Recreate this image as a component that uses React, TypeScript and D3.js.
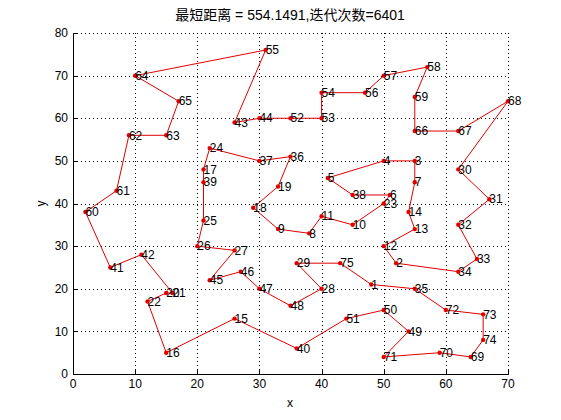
import { useEffect, useRef } from "react";
import * as d3 from "d3";

// city coordinates, index i -> city number i + 1
const cityX = [
  48, 52, 55, 50, 41, 51, 55, 38, 33, 45, 40, 50, 55, 54, 26, 15, 21, 29, 33, 15,
  16, 12, 50, 22, 21, 20, 26, 40, 36, 62, 67, 62, 65, 62, 55, 35, 30, 45, 21, 36,
  6, 11, 26, 30, 22, 27, 30, 35, 54, 50, 44, 35, 40, 40, 31, 47, 50, 57, 55, 2,
  7, 9, 15, 10, 17, 55, 62, 70, 64, 59, 50, 60, 66, 66, 43,
];
const cityY = [
  21, 26, 50, 50, 46, 42, 45, 33, 34, 35, 37, 30, 34, 38, 13, 5, 48, 39, 44, 19,
  19, 17, 40, 53, 36, 30, 29, 20, 26, 48, 41, 35, 27, 24, 20, 51, 50, 42, 45, 6,
  25, 28, 59, 60, 22, 24, 20, 16, 10, 15, 13, 60, 60, 66, 76, 66, 70, 72, 65, 38,
  43, 56, 56, 70, 64, 57, 57, 64, 4, 5, 4, 15, 14, 8, 26,
];

// best tour found
const route = [
  55, 64, 65, 63, 62, 61, 60, 41, 42, 21, 20, 22, 16, 15, 40, 51, 50, 49, 71, 70,
  69, 74, 73, 72, 35, 1, 75, 29, 28, 48, 47, 46, 45, 27, 26, 25, 39, 17, 24, 37,
  36, 19, 18, 9, 8, 11, 10, 23, 6, 38, 5, 4, 3, 7, 14, 13, 12, 2, 34, 33,
  32, 31, 30, 68, 67, 66, 59, 58, 57, 56, 54, 53, 52, 44, 43,
];

const xTicks = [0, 10, 20, 30, 40, 50, 60, 70];
const yTicks = [0, 10, 20, 30, 40, 50, 60, 70, 80];
const title = "最短距离 = 554.1491,迭代次数=6401";

const W = 561;
const H = 420;
const FONT = "'Liberation Sans', Arial, 'Noto Sans CJK SC', sans-serif";

export default function App() {
  const svgRef = useRef<SVGSVGElement>(null);

  useEffect(() => {
    if (!svgRef.current) return;
    const svg = d3.select(svgRef.current);
    svg.selectAll("*").remove();

    const x = d3.scaleLinear().domain([0, 70]).range([73, 508]);
    const y = d3.scaleLinear().domain([0, 80]).range([374, 33]);

    svg.append("rect").attr("width", W).attr("height", H).attr("fill", "#fff");

    const grid = svg.append("g").attr("stroke", "#000").attr("stroke-width", 1).attr("stroke-dasharray", "1,3");
    xTicks.slice(1).forEach((t) => {
      grid
        .append("line")
        .attr("x1", Math.round(x(t)) + 0.5)
        .attr("x2", Math.round(x(t)) + 0.5)
        .attr("y1", y(0))
        .attr("y2", y(80));
    });
    yTicks.slice(1).forEach((t) => {
      grid
        .append("line")
        .attr("x1", x(0))
        .attr("x2", x(70))
        .attr("y1", Math.round(y(t)) + 0.5)
        .attr("y2", Math.round(y(t)) + 0.5);
    });

    // axes (box off: only left & bottom)
    const axes = svg.append("g").attr("stroke", "#000").attr("stroke-width", 1);
    axes.append("line").attr("x1", 73.5).attr("x2", 73.5).attr("y1", y(80)).attr("y2", y(0) + 0.5);
    axes.append("line").attr("x1", 73).attr("x2", x(70) + 1).attr("y1", 374.5).attr("y2", 374.5);
    xTicks.forEach((t) => {
      const px = Math.round(x(t)) + 0.5;
      axes.append("line").attr("x1", px).attr("x2", px).attr("y1", 374).attr("y2", 370);
    });
    yTicks.forEach((t) => {
      const py = Math.round(y(t)) + 0.5;
      axes.append("line").attr("x1", 73).attr("x2", 77).attr("y1", py).attr("y2", py);
    });

    const labels = svg.append("g").style("font-family", FONT).style("font-size", "12px").attr("fill", "#000");
    xTicks.forEach((t) => {
      labels.append("text").attr("x", x(t)).attr("y", 388).attr("text-anchor", "middle").text(t);
    });
    yTicks.forEach((t) => {
      labels
        .append("text")
        .attr("x", 68)
        .attr("y", y(t))
        .attr("dy", "0.35em")
        .attr("text-anchor", "end")
        .text(t);
    });
    labels.append("text").attr("x", 290).attr("y", 407).attr("text-anchor", "middle").text("x");
    labels
      .append("text")
      .attr("transform", `translate(45,${y(40)}) rotate(-90)`)
      .attr("text-anchor", "middle")
      .text("y");
    labels
      .append("text")
      .attr("x", 290)
      .attr("y", 20)
      .attr("text-anchor", "middle")
      .style("font-size", "14px")
      .text(title);

    const pts = route.map((c) => [x(cityX[c - 1]), y(cityY[c - 1])] as [number, number]);
    svg
      .append("path")
      .attr("d", d3.line()([...pts, pts[0]]))
      .attr("fill", "none")
      .attr("stroke", "#e00000")
      .attr("stroke-width", 1);

    svg
      .append("g")
      .selectAll("circle")
      .data(cityX.map((_, i) => i))
      .join("circle")
      .attr("cx", (i) => x(cityX[i]))
      .attr("cy", (i) => y(cityY[i]))
      .attr("r", 2.2)
      .attr("fill", "#e00000");

    svg
      .append("g")
      .style("font-family", FONT)
      .style("font-size", "12px")
      .selectAll("text")
      .data(cityX.map((_, i) => i))
      .join("text")
      .attr("x", (i) => x(cityX[i]))
      .attr("y", (i) => y(cityY[i]))
      .attr("dy", "0.35em")
      .attr("fill", "#000")
      .text((i) => i + 1);
  }, []);

  return (
    <svg
      ref={svgRef}
      width={W}
      height={H}
      style={{ position: "absolute", left: 0, top: 0, display: "block" }}
    />
  );
}
